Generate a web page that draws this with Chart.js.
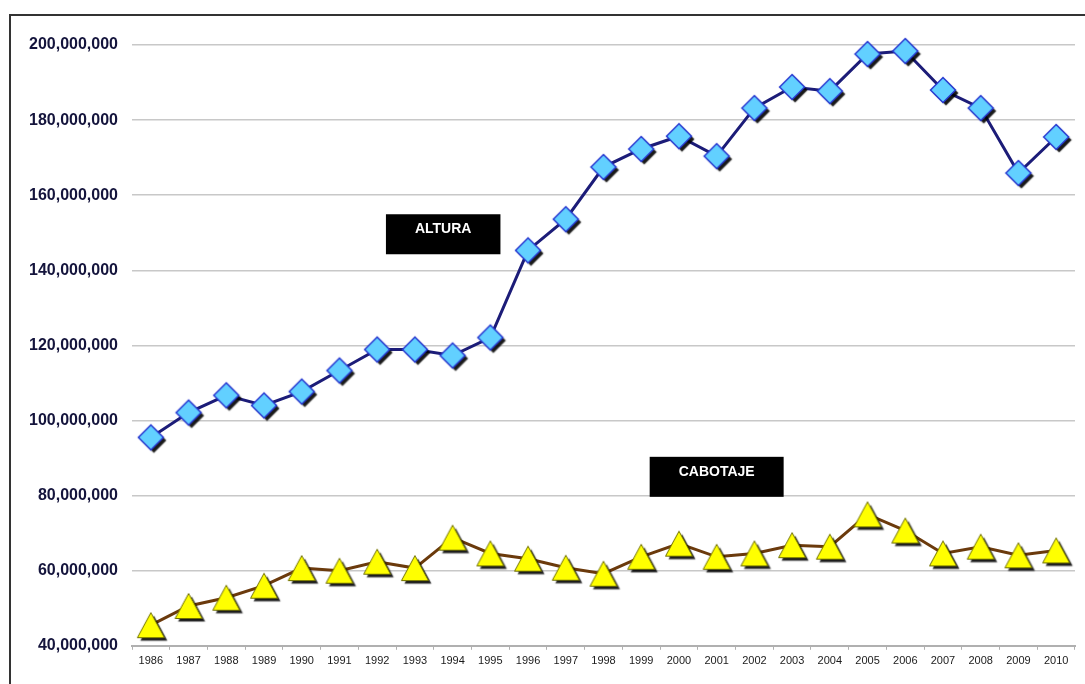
<!DOCTYPE html>
<html>
<head>
<meta charset="utf-8">
<script src="https://cdn.jsdelivr.net/npm/chart.js@4.4.1/dist/chart.umd.min.js"></script>
<style>
  html, body { margin: 0; padding: 0; background: #fff; }
  #frame { position: absolute; left: 9px; top: 14px; width: 1090px; height: 690px; border: 2px solid #333; box-sizing: border-box; }
  #wrap { position: absolute; left: 0; top: 0; width: 1085px; height: 684px; }
</style>
</head>
<body>
<div id="frame"></div>
<div id="wrap"><canvas id="chart"></canvas></div>
<script>
const years = ['1986', '1987', '1988', '1989', '1990', '1991', '1992', '1993', '1994', '1995', '1996', '1997',
  '1998', '1999', '2000', '2001', '2002', '2003', '2004', '2005', '2006', '2007', '2008', '2009', '2010']

// toneladas
const altura = [95.5, 102.1, 106.7, 104.0, 107.7, 113.3, 118.9, 118.9, 117.3, 122.1, 145.3, 153.6,
  167.5, 172.3, 175.7, 170.4, 183.2, 188.8, 187.7, 197.6, 198.4, 188.0, 183.2, 165.9, 175.5].map(v => v * 1e6)
const cabotaje = [45.5, 50.6, 52.8, 56.0, 60.7, 60.0, 62.4, 60.7, 68.8, 64.6, 63.2, 60.8,
  59.2, 63.7, 67.2, 63.7, 64.6, 66.8, 66.4, 75.0, 70.7, 64.6, 66.4, 64.1, 65.4].map(v => v * 1e6)

const yTicks = [40, 60, 80, 100, 120, 140, 160, 180, 200].map(v => v * 1e6)

// etiquetas: [texto, indice de categoria, valor]
const labels = [
  ['ALTURA', 7.75, 149.6e6],
  ['CABOTAJE', 15.0, 85.0e6]
]

// marcadores con sombra (solo el punto, no la linea)
function marker(kind) {
  const c = document.createElement('canvas')
  const s = 40
  c.width = s; c.height = s
  const g = c.getContext('2d')
  const m = s / 2
  g.shadowColor = 'rgba(0,0,0,0.9)'
  g.shadowOffsetX = 3
  g.shadowOffsetY = 3
  g.shadowBlur = 1
  g.beginPath()
  if (kind === 'diamond') {
    const r = 12.5
    g.moveTo(m, m - r); g.lineTo(m + r, m); g.lineTo(m, m + r); g.lineTo(m - r, m)
    g.closePath()
    g.fillStyle = '#62d0ff'
    g.fill()
    g.shadowColor = 'transparent'
    g.lineWidth = 1.5
    g.strokeStyle = '#2637d0'
    g.stroke()
  } else {
    const w = 27, h = 25
    g.moveTo(m, m - h / 2); g.lineTo(m + w / 2, m + h / 2); g.lineTo(m - w / 2, m + h / 2)
    g.closePath()
    g.fillStyle = '#ffff00'
    g.fill()
    g.shadowColor = 'transparent'
    g.lineWidth = 1
    g.strokeStyle = '#707000'
    g.stroke()
  }
  return c
}

const boxLabels = {
  id: 'boxLabels',
  afterDatasetsDraw(chart) {
    const ctx = chart.ctx
    const x = chart.scales.x, y = chart.scales.y
    ctx.save()
    ctx.font = 'bold 14px "Liberation Sans", Arial, sans-serif'
    labels.forEach(([text, idx, val]) => {
      const cx = x.getPixelForValue(idx)
      const cy = y.getPixelForValue(val)
      const w = ctx.measureText(text).width + 58
      const h = 40
      ctx.fillStyle = '#000'
      ctx.fillRect(cx - w / 2, cy - h / 2, w, h)
      ctx.fillStyle = '#fff'
      ctx.textAlign = 'center'
      ctx.textBaseline = 'middle'
      ctx.fillText(text, cx, cy - 5)
    })
    ctx.restore()
  }
}

new Chart(document.getElementById('chart'), {
  type: 'line',
  data: {
    labels: years,
    datasets: [
      {
        label: 'ALTURA',
        data: altura,
        borderColor: '#1c1c78',
        borderWidth: 3,
        pointStyle: marker('diamond'),
        pointRadius: 12,
        tension: 0,
        clip: false
      },
      {
        label: 'CABOTAJE',
        data: cabotaje,
        borderColor: '#6b3a0c',
        borderWidth: 3,
        pointStyle: marker('triangle'),
        pointRadius: 14,
        tension: 0,
        clip: false
      }
    ]
  },
  options: {
    responsive: true,
    maintainAspectRatio: false,
    animation: false,
    layout: { autoPadding: false, padding: { left: 0, right: 10, top: 45, bottom: 11 } },
    plugins: {
      legend: { display: false },
      tooltip: { enabled: false }
    },
    scales: {
      x: {
        offset: true,
        grid: { display: true, drawOnChartArea: false, offset: true, color: '#b0b0b0', tickLength: 4 },
        border: { display: true, color: '#b0b0b0', width: 2 },
        ticks: {
          color: '#1a1a1a',
          font: { family: '"Liberation Sans Narrow", "Liberation Sans", Arial, sans-serif', size: 11 },
          maxRotation: 0,
          autoSkip: false,
          padding: 5
        }
      },
      y: {
        min: 40e6,
        max: 200e6,
        afterBuildTicks(scale) { scale.ticks = yTicks.map(v => ({ value: v })) },
        afterFit(scale) { scale.width = 132 },
        grid: { color: '#c8c8c8', lineWidth: 1.5, drawTicks: false },
        border: { display: false },
        ticks: {
          color: '#14143c',
          padding: 14,
          font: { family: '"Liberation Sans", Arial, sans-serif', size: 16, weight: 'bold' },
          callback: v => v.toLocaleString('en-US')
        }
      }
    }
  },
  plugins: [boxLabels]
})
</script>
</body>
</html>
